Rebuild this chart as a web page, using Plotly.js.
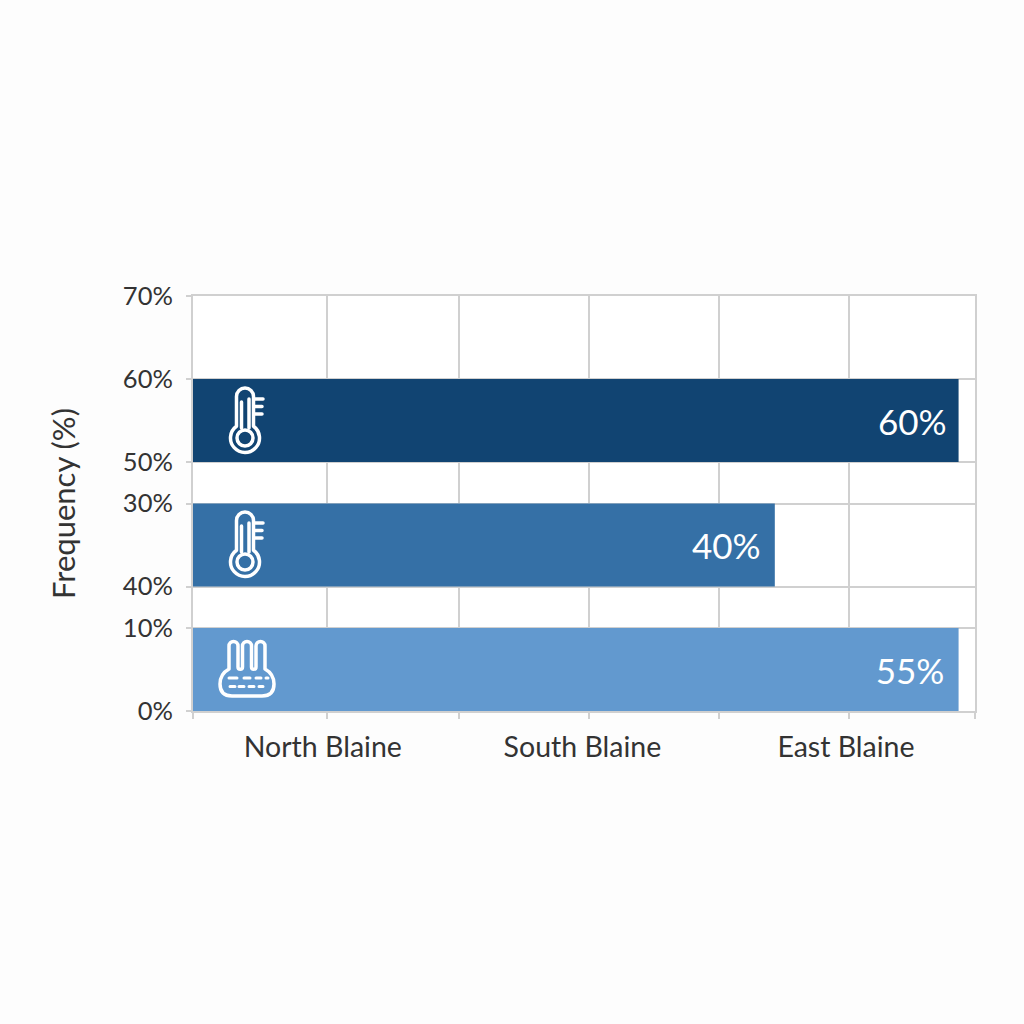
<!DOCTYPE html>
<html>
<head>
<meta charset="utf-8">
<script src="https://cdn.plot.ly/plotly-3.0.1.min.js"></script>
<style>html,body{margin:0;padding:0;background:#fdfdfd}</style>
</head>
<body>
<div id="chart" style="width:1024px;height:1024px"></div>
<script>
// Bars, bottom to top. Lengths are read against the horizontal axis (0-100 of its width).
const barLabels = ["55%", "40%", "60%"];
const labelGaps = ["&nbsp;\u200A", "&nbsp;\u200A", "&nbsp;"];
const barLengths = [97.9, 74.4, 97.9];
const barSlots = [0.5, 2, 3.5];
const barColors = ["#6299cf", "#3570a6", "#114472"];
// Vertical axis: the tick labels are irregular in the source.
const yTickSlots = [0, 1, 1.5, 2.5, 3, 4, 5];
const yTickLabels = ["0%", "10%", "40%", "30%", "50%", "60%", "70%"];
// Horizontal axis
const xGrid = [0, 17.1, 34, 50.6, 67.3, 83.9, 100];
const categories = ["North Blaine", "South Blaine", "East Blaine"];
const categoryCentres = [16.6, 49.8, 83.5];

const thermometer = `<svg xmlns="http://www.w3.org/2000/svg" viewBox="0 0 110 100"><g fill="none" stroke="#fff" stroke-width="3.500" stroke-linecap="round" stroke-linejoin="round"><path d="M46.500 56.250V26.500a8.500 8.500 0 0 1 17 0V56.250a14.500 14.500 0 1 1-17 0Z"/><circle cx="55" cy="68" r="8"/><path d="M51.500 32V58M59 29V58"/><path d="M64 29H73M64 36.500H72M64 44H72"/></g></svg>`;
const coil = `<svg xmlns="http://www.w3.org/2000/svg" viewBox="0 0 110 100"><g fill="none" stroke="#fff" stroke-width="3.500" stroke-linecap="round" stroke-linejoin="round"><path d="M39 49V26a4.500 4.500 0 0 1 9 0V47a2.250 2.250 0 0 0 4.500 0V26a4.500 4.500 0 0 1 9 0V47a2.250 2.250 0 0 0 4.500 0V26a4.500 4.500 0 0 1 9 0V49Q84 54 84 64Q84 76 72 76H42Q30 76 30 64Q30 54 39 49Z"/><path d="M39 58H47M54 58H60M66 58H71M76 58H78M40 66.500H45M49 66.500H54M59 66.500H64M69 66.500H73" stroke-width="3"/></g></svg>`;
const uri = s => "data:image/svg+xml;base64," + btoa(s);

const L = 193, T = 296, W = 782, H = 415;
const icon = (svg, px, py) => ({
  source: uri(svg), xref: "paper", yref: "paper", layer: "above",
  x: (px - L) / W, y: 1 - (py - T) / H, sizex: 110 / W, sizey: 100 / H,
  xanchor: "left", yanchor: "top", sizing: "stretch"
});

const font = "Lato, 'Open Sans', sans-serif";
const bars = {
  type: "bar", orientation: "h", x: barLengths, y: barSlots, width: 1,
  marker: { color: barColors, line: { width: 0 } },
  text: barLabels.map((t, i) => t + labelGaps[i]),
  textposition: "inside", insidetextanchor: "end", constraintext: "none",
  textangle: 0, cliponaxis: false,
  insidetextfont: { family: font, size: 35, color: "#ffffff" },
  hoverinfo: "skip", showlegend: false
};
const catHolder = {
  type: "scatter", mode: "none", x: categoryCentres, y: categoryCentres.map(() => 0),
  xaxis: "x2", yaxis: "y", showlegend: false, hoverinfo: "skip"
};

const layout = {
  width: 1024, height: 1024,
  margin: { l: L, r: 1024 - L - W, t: T, b: 1024 - T - H, pad: 0 },
  paper_bgcolor: "#fdfdfd", plot_bgcolor: "#ffffff",
  font: { family: font, color: "#333333" },
  showlegend: false,
  xaxis: {
    range: [0, 100], tickmode: "array", tickvals: xGrid, ticktext: xGrid.map(() => ""),
    showgrid: true, gridcolor: "#d0d0d0", gridwidth: 2, zeroline: false,
    showline: true, linecolor: "#d0d0d0", linewidth: 2, mirror: true,
    ticks: "outside", ticklen: 6, tickcolor: "#d0d0d0", tickwidth: 2
  },
  xaxis2: {
    range: [0, 100], overlaying: "x", anchor: "y", side: "bottom",
    tickmode: "array", tickvals: categoryCentres, ticktext: categories,
    showgrid: false, zeroline: false, showline: false,
    ticks: "outside", ticklen: 11, tickcolor: "rgba(0,0,0,0)",
    tickfont: { family: font, size: 28.5, color: "#333333" }
  },
  yaxis: {
    range: [0, 5], tickmode: "array", tickvals: yTickSlots, ticktext: yTickLabels,
    showgrid: true, gridcolor: "#d0d0d0", gridwidth: 2, zeroline: false,
    showline: true, linecolor: "#d0d0d0", linewidth: 2, mirror: true,
    ticks: "outside", ticklen: 5, tickcolor: "#d0d0d0", tickwidth: 2,
    ticklabelstandoff: 8,
    tickfont: { family: font, size: 25.5, color: "#333333" },
    title: { text: "Frequency (%)", standoff: 38, font: { family: font, size: 31, color: "#333333" } }
  },
  images: [
    icon(thermometer, 190, 370),
    icon(thermometer, 190, 494),
    icon(coil, 190, 620)
  ]
};
Plotly.newPlot("chart", [bars, catHolder], layout, { displayModeBar: false, staticPlot: true });
</script>
</body>
</html>
